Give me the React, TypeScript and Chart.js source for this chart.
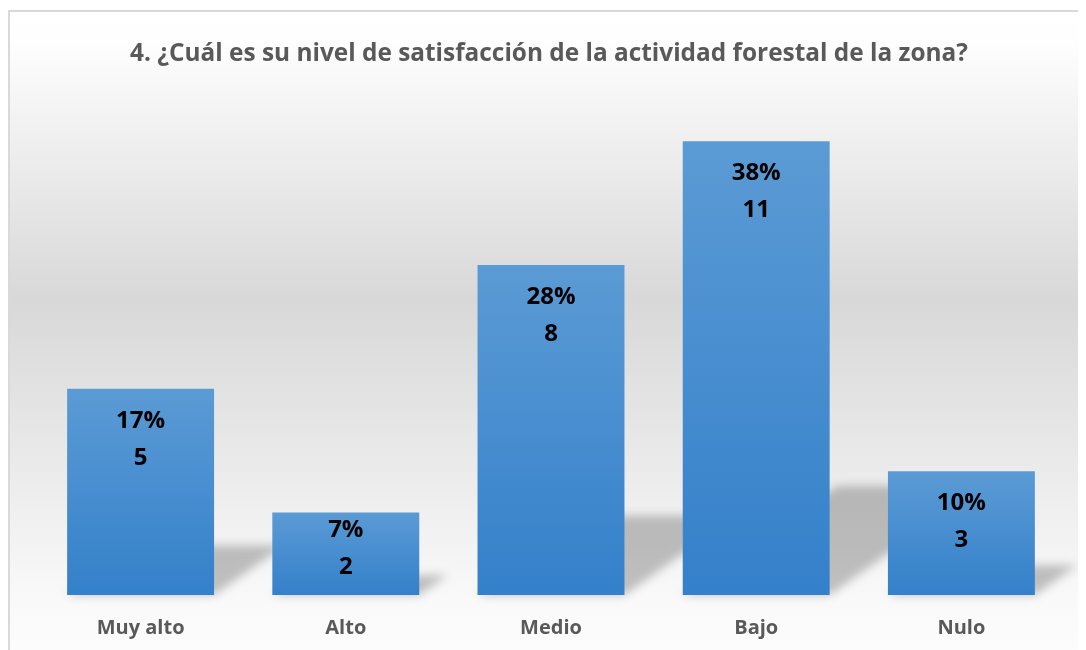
import React, { useEffect, useRef } from "react";
import { Chart, registerables } from "chart.js";

Chart.register(...registerables);

const TITLE = "4. ¿Cuál es su nivel de satisfacción de la actividad forestal de la zona?";
const categories = ["Muy alto", "Alto", "Medio", "Bajo", "Nulo"];
const counts = [5, 2, 8, 11, 3];
const percents = ["17%", "7%", "28%", "38%", "10%"];

const FONT = "'Open Sans', sans-serif";

const backgroundPlugin = {
  id: "bgPlugin",
  beforeDraw(chart: any) {
    const { ctx, width, height } = chart;
    ctx.save();
    const g = ctx.createLinearGradient(0, 0, 0, height);
    g.addColorStop(0, "#ffffff");
    g.addColorStop(0.05, "#fefefe");
    g.addColorStop(0.455, "#d8d8d8");
    g.addColorStop(0.92, "#f9f9f9");
    g.addColorStop(1, "#fcfcfc");
    ctx.fillStyle = "#ffffff";
    ctx.fillRect(0, 0, width, height);
    ctx.fillStyle = g;
    ctx.fillRect(1, 3, width, height);
    ctx.strokeStyle = "#d9d9d9";
    ctx.lineWidth = 2;
    ctx.strokeRect(1, 3, width + 20, height + 20);
    // title
    ctx.fillStyle = "#595959";
    ctx.font = `bold 24.4px ${FONT}`;
    ctx.textAlign = "center";
    ctx.textBaseline = "middle";
    ctx.fillText(TITLE, 541, 46);
    ctx.restore();
  },
};

const shadowPlugin = {
  id: "shadowPlugin",
  beforeDatasetsDraw(chart: any) {
    const { ctx } = chart;
    const meta = chart.getDatasetMeta(0);
    ctx.save();
    ctx.filter = "blur(5px)";
    ctx.fillStyle = "rgba(0,0,0,0.23)";
    meta.data.forEach((bar: any) => {
      const { x, y, base, width } = bar.getProps(["x", "y", "base", "width"], true);
      const h = base - y;
      const kh = 0.24 * h;
      const dx = 0.34 * h;
      const xL = x - width / 2;
      const xR = x + width / 2;
      ctx.beginPath();
      ctx.moveTo(xL, base);
      ctx.lineTo(xR, base);
      ctx.lineTo(xR + dx, base - kh);
      ctx.lineTo(xL + dx, base - kh);
      ctx.closePath();
      ctx.fill();
    });
    ctx.restore();
  },
};

const labelPlugin = {
  id: "labelPlugin",
  afterDatasetsDraw(chart: any) {
    const { ctx } = chart;
    const meta = chart.getDatasetMeta(0);
    ctx.save();
    ctx.fillStyle = "#000000";
    ctx.font = `bold 24px ${FONT}`;
    ctx.textAlign = "center";
    ctx.textBaseline = "middle";
    meta.data.forEach((bar: any, i: number) => {
      const { x, y, base } = bar.getProps(["x", "y", "base"], true);
      const off = Math.min(0, base - 28 - (y + 69));
      ctx.fillText(percents[i], x, y + 32 + off);
      ctx.fillText(String(counts[i]), x, y + 69 + off);
    });
    ctx.restore();
  },
};

export default function App() {
  const ref = useRef<HTMLCanvasElement | null>(null);
  useEffect(() => {
    if (!ref.current) return;
    const chart = new Chart(ref.current, {
      type: "bar",
      data: {
        labels: categories,
        datasets: [
          {
            data: counts,
            backgroundColor: (c: any) => {
              const chart = c.chart;
              if (!chart.chartArea || !c.parsed) return "#4a8fd0";
              const ys = chart.scales.y;
              const top = ys.getPixelForValue(c.parsed.y);
              const bottom = ys.getPixelForValue(0);
              const g = chart.ctx.createLinearGradient(0, top, 0, bottom);
              g.addColorStop(0, "#5b9bd5");
              g.addColorStop(1, "#3480ca");
              return g;
            },
            borderWidth: 0,
            barPercentage: 0.716,
            categoryPercentage: 1,
          },
        ],
      },
      options: {
        responsive: false,
        animation: false,
        events: [],
        layout: { padding: { top: 92, left: 30, right: 22, bottom: 0 } },
        plugins: {
          legend: { display: false },
          title: { display: false },
          tooltip: { enabled: false },
        },
        scales: {
          x: {
            grid: { display: false, drawTicks: false },
            border: { display: false },
            ticks: {
              color: "#595959",
              font: { family: FONT, size: 20, weight: "bold" },
              padding: 21,
            },
            afterFit: (scale: any) => {
              scale.height = 55;
            },
          },
          y: {
            display: false,
            min: 0,
            max: 12,
          },
        },
      },
      plugins: [backgroundPlugin, shadowPlugin, labelPlugin],
    });
    return () => chart.destroy();
  }, []);
  return (
    <canvas ref={ref} width={1078} height={642} style={{ display: "block" }} />
  );
}
